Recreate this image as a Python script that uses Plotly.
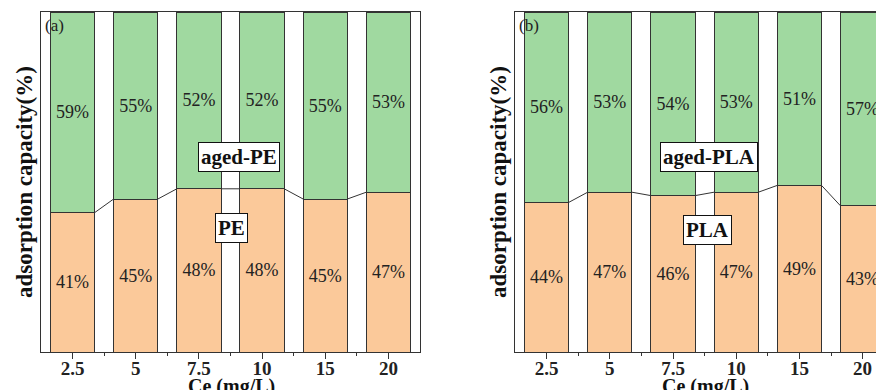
import plotly.graph_objects as go

categories = ["2.5", "5", "7.5", "10", "15", "20"]
pe = [41, 45, 48, 48, 45, 47]
aged_pe = [59, 55, 52, 52, 55, 53]
pla = [44, 47, 46, 47, 49, 43]
aged_pla = [56, 53, 54, 53, 51, 57]

ORANGE = "#FBC99A"
GREEN = "#A0D9A0"
EDGE = "#333333"
FONT = "Liberation Serif"
BAR_W = 0.7

# page body has an 8px default margin; figure is sized/offset to compensate
W, H = 876, 382
xa_dom = [33 / W, 412 / W]
xb_dom = [507 / W, 1.0]
ppc = 63.2  # pixels per category

fig = go.Figure()
xs = list(range(len(categories)))


def add_panel(bottom, top, xref, yref):
    fig.add_trace(go.Bar(
        x=xs, y=bottom, width=BAR_W, marker=dict(color=ORANGE, line=dict(color=EDGE, width=1)),
        text=[f"{v}%" for v in bottom], textposition="inside", insidetextanchor="middle",
        constraintext="none", textangle=0,
        textfont=dict(family=FONT, size=18, color="#222"),
        xaxis=xref, yaxis=yref, showlegend=False, hoverinfo="skip"))
    fig.add_trace(go.Bar(
        x=xs, y=top, width=BAR_W, marker=dict(color=GREEN, line=dict(color=EDGE, width=1)),
        text=[f"{v}%" for v in top], textposition="inside", insidetextanchor="middle",
        constraintext="none", textangle=0,
        textfont=dict(family=FONT, size=18, color="#222"),
        xaxis=xref, yaxis=yref, showlegend=False, hoverinfo="skip"))
    lx, ly = [], []
    for i in range(len(bottom) - 1):
        lx += [xs[i] + BAR_W / 2, xs[i + 1] - BAR_W / 2, None]
        ly += [bottom[i], bottom[i + 1], None]
    fig.add_trace(go.Scatter(x=lx, y=ly, mode="lines", line=dict(color=EDGE, width=1),
                             xaxis=xref, yaxis=yref, showlegend=False, hoverinfo="skip"))


add_panel(pe, aged_pe, "x", "y")
add_panel(pla, aged_pla, "x2", "y2")

axis_common = dict(
    showline=True, linecolor=EDGE, linewidth=1, showgrid=False, zeroline=False,
)
xcommon = dict(
    axis_common, tickmode="array", tickvals=xs, ticktext=categories,
    ticks="outside", ticklen=6, tickwidth=1, tickcolor=EDGE, ticklabelstandoff=-7,
    tickfont=dict(family=FONT, size=19, color="#222", weight="bold"),
    minor=dict(tickmode="array", tickvals=[i + 0.5 for i in xs[:-1]], ticks="outside",
               ticklen=3, tickwidth=1, tickcolor=EDGE),
)
fig.update_layout(
    barmode="stack",
    width=W, height=H,
    margin=dict(l=0, r=0, t=4, b=38),
    plot_bgcolor="white", paper_bgcolor="white",
    xaxis=dict(xcommon, domain=xa_dom, range=[-0.5, 5.5], mirror=True, anchor="y"),
    yaxis=dict(axis_common, domain=[0, 1], range=[0, 100], showticklabels=False, ticks="",
               mirror=True, anchor="x"),
    xaxis2=dict(xcommon, domain=xb_dom, range=[-0.5, -0.5 + 369 / ppc], mirror=True, anchor="y2"),
    yaxis2=dict(axis_common, domain=[0, 1], range=[0, 100], showticklabels=False, ticks="",
                mirror=False, anchor="x2"),
)

box = dict(bgcolor="white", bordercolor="#111", borderwidth=1, borderpad=2, showarrow=False,
           font=dict(family=FONT, size=21, color="#111", weight="bold"))
ann = [
    dict(box, text="aged-PE", x=2.63, y=57.4, xref="x", yref="y"),
    dict(box, text="PE", x=2.52, y=36.5, xref="x", yref="y"),
    dict(box, text="aged-PLA", x=2.57, y=57.4, xref="x2", yref="y2"),
    dict(box, text="PLA", x=2.54, y=35.9, xref="x2", yref="y2"),
    dict(text="(a)", x=35 / W, y=96, xref="paper", yref="y", xanchor="left", showarrow=False,
         font=dict(family=FONT, size=17, color="#222")),
    dict(text="(b)", x=509 / W, y=96, xref="paper", yref="y", xanchor="left", showarrow=False,
         font=dict(family=FONT, size=17, color="#222")),
]
for xp in [16 / W, 490 / W]:
    ann.append(dict(text="adsorption capacity(%)", textangle=-90, x=xp, y=0.5, xref="paper",
                    yref="paper", xanchor="center", yanchor="middle", showarrow=False,
                    font=dict(family=FONT, size=23, color="#111", weight="bold")))
for xr in ["x", "x2"]:
    ann.append(dict(text="Ce (mg/L)", x=2.52, y=-0.062, xref=xr, yref="paper",
                    xanchor="center", yanchor="top", showarrow=False,
                    font=dict(family=FONT, size=20, color="#111", weight="bold")))
fig.update_layout(annotations=ann)

fig.write_html("out.html")
